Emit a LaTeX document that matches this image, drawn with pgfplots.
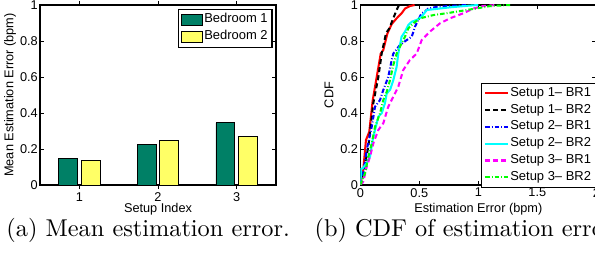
\documentclass[border=0pt]{standalone}
\usepackage{pgfplots}
\pgfplotsset{compat=1.18}
\usepackage{fontspec}
\newfontfamily\hv{Liberation Sans}
\definecolor{sgreen}{rgb}{0,0.5,0.4}
\definecolor{syellow}{rgb}{1,1,0.4}
\definecolor{mcyan}{rgb}{0,1,1}
\definecolor{mmagenta}{rgb}{1,0,1}
\definecolor{mgreen}{rgb}{0,1,0}
\definecolor{mred}{rgb}{1,0,0}
\definecolor{mblue}{rgb}{0,0,1}
\begin{document}
\begin{tikzpicture}
\useasboundingbox (0,0) rectangle (261.8pt,-111.32pt);
\clip (0,0) rectangle (261.8pt,-111.32pt);
\pgfplotsset{
  mystyle/.style={
    scale only axis,
    height=79.2pt,
    width=103.84pt,
    ymin=0, ymax=1,
    ytick={0,0.2,0.4,0.6,0.8,1},
    tick align=inside,
    axis line style={line width=0.5pt},
    every tick/.style={black, line width=0.4pt},
    major tick length=1.8pt,
    tick label style={font=\hv\fontsize{5.6}{6}\selectfont},
    xticklabel style={inner sep=0pt, anchor=north, yshift=-1.2pt},
    yticklabel style={inner sep=0pt, anchor=east, xshift=-0.8pt},
    label style={font=\hv\fontsize{5.6}{6}\selectfont},
    xlabel style={at={(axis description cs:0.5,-0.151)}, anchor=base, inner sep=0pt},
    /pgf/number format/assume math mode=true,
    legend style={font=\hv\fontsize{5.7}{6.5}\selectfont, draw=black, line width=0.5pt, cells={anchor=west}, nodes={inner sep=0.7pt}},
  }
}
\begin{axis}[mystyle,
  at={(17.6pt,-81.4pt)}, anchor=south west,
  xmin=0.5, xmax=3.5,
  xtick={1,2,3},
  xlabel={Setup Index},
  ylabel={Mean Estimation Error (bpm)},
  ylabel style={at={(axis description cs:-0.127,0.5)}, anchor=center},
  ybar, bar shift=0pt, bar width=8.3pt,
  legend style={at={(0.585,0.978)}, anchor=north west, inner xsep=1.2pt, inner ysep=1pt, row sep=0.5pt},
  legend image code/.code={\draw[#1, line width=0.4pt] (0pt,-2.3pt) rectangle (9pt,2.3pt);},
]
\addplot[fill=sgreen, draw=black, line width=0.4pt] coordinates {(0.857,0.145) (1.857,0.227) (2.857,0.345)};
\addplot[fill=syellow, draw=black, line width=0.4pt] coordinates {(1.143,0.137) (2.143,0.245) (3.143,0.27)};
\legend{Bedroom 1, Bedroom 2}
\end{axis}
\begin{axis}[mystyle,
  at={(158.53pt,-81.4pt)}, anchor=south west,
  xmin=0, xmax=2,
  xtick={0,0.5,1,1.5,2},
  xlabel={Estimation Error (bpm)},
  ylabel={CDF},
  ylabel style={at={(axis description cs:-0.133,0.5)}, anchor=center},
  legend style={at={(0.51,0.568)}, anchor=north west, inner xsep=1.2pt, inner ysep=1pt, row sep=0.5pt},
  legend image code/.code={\draw[#1] (0pt,0pt) -- (10pt,0pt);},
  every axis plot/.append style={line width=0.9pt},
]
\addplot[mred] coordinates {(0,0) (0.012,0.04) (0.025,0.083) (0.048,0.25) (0.076,0.296) (0.105,0.47) (0.139,0.60) (0.173,0.73) (0.195,0.75) (0.229,0.84) (0.266,0.894) (0.308,0.926) (0.35,0.954) (0.379,0.98) (0.42,0.994) (0.46,1.0)};
\addplot[black, dash pattern=on 2.2pt off 1.4pt] coordinates {(0,0) (0.03,0.08) (0.068,0.213) (0.11,0.454) (0.153,0.60) (0.181,0.73) (0.218,0.843) (0.246,0.87) (0.274,0.917) (0.308,0.972) (0.328,1.0)};
\addplot[mblue, dash pattern=on 2pt off 0.9pt on 0.4pt off 0.9pt] coordinates {(0,0) (0.025,0.065) (0.054,0.194) (0.097,0.324) (0.125,0.435) (0.167,0.472) (0.195,0.528) (0.237,0.60) (0.266,0.694) (0.28,0.73) (0.336,0.778) (0.393,0.805) (0.436,0.824) (0.464,0.88) (0.49,0.917) (0.52,0.954) (0.548,0.963) (0.575,0.98) (0.65,0.99) (0.9,1.0)};
\addplot[mcyan] coordinates {(0,0) (0.008,0.09) (0.02,0.093) (0.054,0.12) (0.082,0.157) (0.105,0.25) (0.125,0.306) (0.153,0.38) (0.181,0.398) (0.209,0.454) (0.224,0.509) (0.252,0.528) (0.28,0.583) (0.308,0.657) (0.322,0.73) (0.35,0.824) (0.379,0.852) (0.407,0.889) (0.436,0.907) (0.478,0.917) (0.52,0.935) (0.563,0.972) (0.76,0.987) (0.915,0.996) (1.0,1.0)};
\addplot[mmagenta, dash pattern=on 2.2pt off 1.4pt] coordinates {(0,0) (0.025,0.018) (0.054,0.10) (0.082,0.157) (0.11,0.231) (0.153,0.306) (0.195,0.343) (0.237,0.435) (0.28,0.491) (0.322,0.546) (0.364,0.639) (0.42,0.694) (0.478,0.73) (0.52,0.805) (0.59,0.852) (0.675,0.898) (0.76,0.926) (0.873,0.954) (0.958,0.98) (1.04,0.994) (1.156,1.0)};
\addplot[mgreen, dash pattern=on 2pt off 0.9pt on 0.4pt off 0.9pt] coordinates {(0,0) (0.04,0.065) (0.068,0.157) (0.097,0.231) (0.125,0.324) (0.167,0.398) (0.195,0.472) (0.224,0.518) (0.252,0.583) (0.28,0.667) (0.308,0.73) (0.35,0.787) (0.379,0.824) (0.407,0.87) (0.449,0.898) (0.506,0.926) (0.62,0.944) (0.76,0.957) (0.9,0.972) (1.04,0.987) (1.1,0.994) (1.27,1.0)};
\legend{Setup 1– BR1, Setup 1– BR2, Setup 2– BR1, Setup 2– BR2, Setup 3– BR1, Setup 3– BR2}
\end{axis}
\node[anchor=base west, inner sep=0pt, font=\fontsize{10.7}{12}\selectfont] at (2.64pt,-104.28pt) {(a) Mean estimation error.};
\node[anchor=base west, inner sep=0pt, font=\fontsize{10.7}{12}\selectfont] at (138.2pt,-104.28pt) {(b) CDF of estimation error.};
\end{tikzpicture}
\end{document}
